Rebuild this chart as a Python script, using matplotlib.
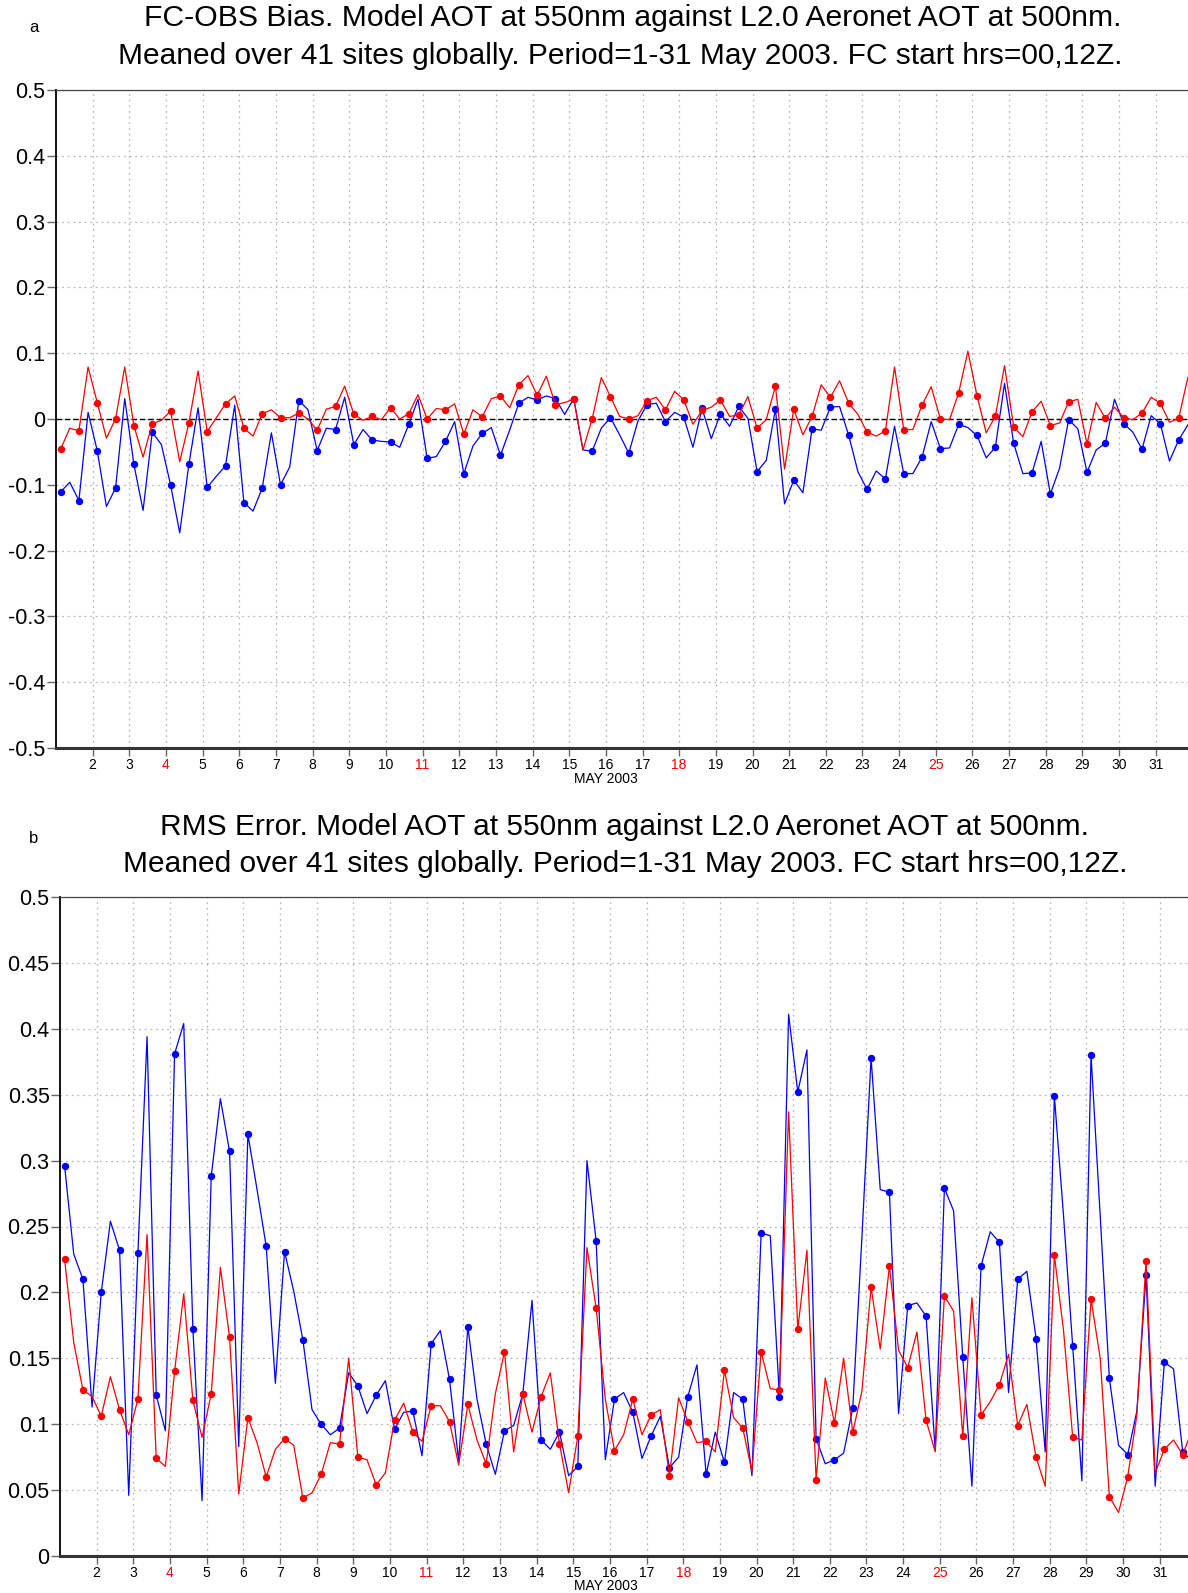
import numpy as np
import matplotlib.pyplot as plt

plt.rcParams['font.family'] = ['Liberation Sans', 'DejaVu Sans']
plt.rcParams['axes.unicode_minus'] = False

# 6-hourly values, May 2003 (valid 03, 09, 15, 21Z)
days = list(range(1, 32))
valid_hours = [3, 9, 15, 21]
time = np.array([d + h / 24 for d in days for h in valid_hours])

bias_blue = [
    -0.111, -0.096, -0.124, 0.010,
    -0.048, -0.133, -0.105, 0.031,
    -0.069, -0.139, -0.020, -0.039,
    -0.100, -0.173, -0.069, 0.017,
    -0.104, -0.087, -0.071, 0.021,
    -0.127, -0.140, -0.105, -0.021,
    -0.100, -0.073, 0.028, 0.014,
    -0.048, -0.014, -0.016, 0.033,
    -0.039, -0.016, -0.032, -0.034,
    -0.035, -0.043, -0.008, 0.030,
    -0.060, -0.057, -0.034, -0.004,
    -0.083, -0.041, -0.022, -0.013,
    -0.055, -0.017, 0.024, 0.033,
    0.029, 0.035, 0.031, 0.007,
    0.031, -0.047, -0.049, -0.014,
    0.002, -0.024, -0.052, -0.003,
    0.022, 0.024, -0.004, 0.010,
    0.003, -0.043, 0.016, -0.030,
    0.008, -0.011, 0.019, 0.001,
    -0.080, -0.063, 0.015, -0.129,
    -0.093, -0.112, -0.015, -0.017,
    0.018, 0.019, -0.025, -0.080,
    -0.107, -0.079, -0.091, -0.011,
    -0.083, -0.083, -0.058, -0.004,
    -0.045, -0.044, -0.008, -0.013,
    -0.025, -0.059, -0.043, 0.054,
    -0.037, -0.083, -0.082, -0.034,
    -0.114, -0.075, -0.001, -0.015,
    -0.081, -0.047, -0.037, 0.030,
    -0.007, -0.020, -0.046, 0.005,
    -0.007, -0.064, -0.032, -0.009,
]

bias_red = [
    -0.046, -0.014, -0.018, 0.079,
    0.025, -0.029, 0.000, 0.079,
    -0.010, -0.058, -0.007, -0.002,
    0.012, -0.065, -0.006, 0.073,
    -0.019, 0.002, 0.023, 0.035,
    -0.014, -0.026, 0.008, 0.014,
    0.002, 0.002, 0.009, 0.000,
    -0.017, 0.015, 0.019, 0.050,
    0.007, -0.002, 0.004, -0.001,
    0.017, 0.000, 0.008, 0.037,
    0.000, 0.016, 0.014, 0.023,
    -0.023, 0.014, 0.003, 0.031,
    0.035, 0.017, 0.052, 0.066,
    0.036, 0.065, 0.022, 0.025,
    0.030, -0.047, 0.000, 0.063,
    0.034, 0.004, 0.000, 0.005,
    0.028, 0.033, 0.014, 0.042,
    0.029, -0.008, 0.013, 0.018,
    0.029, 0.004, 0.006, 0.034,
    -0.014, -0.001, 0.050, -0.076,
    0.015, -0.024, 0.004, 0.052,
    0.033, 0.058, 0.024, 0.007,
    -0.020, -0.026, -0.018, 0.079,
    -0.016, -0.016, 0.021, 0.049,
    0.000, -0.001, 0.040, 0.103,
    0.035, -0.021, 0.004, 0.081,
    -0.012, -0.027, 0.011, 0.027,
    -0.010, -0.006, 0.026, 0.030,
    -0.038, 0.025, 0.001, 0.018,
    0.002, -0.001, 0.009, 0.033,
    0.024, -0.005, 0.001, 0.063,
]

rms_blue = [
    0.296, 0.229, 0.210, 0.113,
    0.200, 0.254, 0.232, 0.046,
    0.230, 0.394, 0.122, 0.095,
    0.381, 0.404, 0.172, 0.042,
    0.288, 0.347, 0.307, 0.083,
    0.320, 0.278, 0.235, 0.131,
    0.231, 0.201, 0.164, 0.111,
    0.100, 0.092, 0.097, 0.139,
    0.129, 0.108, 0.122, 0.133,
    0.096, 0.109, 0.110, 0.076,
    0.161, 0.171, 0.134, 0.072,
    0.174, 0.119, 0.085, 0.062,
    0.095, 0.099, 0.123, 0.194,
    0.088, 0.081, 0.094, 0.061,
    0.068, 0.300, 0.239, 0.073,
    0.119, 0.124, 0.109, 0.074,
    0.091, 0.106, 0.067, 0.075,
    0.121, 0.145, 0.062, 0.094,
    0.071, 0.124, 0.119, 0.061,
    0.245, 0.243, 0.121, 0.411,
    0.352, 0.384, 0.089, 0.070,
    0.073, 0.078, 0.112, 0.242,
    0.378, 0.278, 0.276, 0.108,
    0.190, 0.192, 0.182, 0.080,
    0.279, 0.262, 0.151, 0.053,
    0.220, 0.246, 0.238, 0.124,
    0.210, 0.216, 0.165, 0.079,
    0.349, 0.258, 0.159, 0.057,
    0.380, 0.258, 0.135, 0.084,
    0.077, 0.110, 0.213, 0.053,
    0.147, 0.142, 0.079, 0.072,
]

rms_red = [
    0.225, 0.162, 0.126, 0.121,
    0.106, 0.136, 0.111, 0.092,
    0.119, 0.244, 0.074, 0.068,
    0.140, 0.199, 0.118, 0.090,
    0.123, 0.219, 0.166, 0.047,
    0.105, 0.086, 0.060, 0.081,
    0.089, 0.084, 0.044, 0.048,
    0.062, 0.086, 0.085, 0.150,
    0.075, 0.073, 0.054, 0.063,
    0.103, 0.116, 0.094, 0.087,
    0.114, 0.114, 0.102, 0.069,
    0.115, 0.088, 0.070, 0.123,
    0.155, 0.079, 0.123, 0.094,
    0.121, 0.139, 0.085, 0.048,
    0.091, 0.234, 0.188, 0.119,
    0.080, 0.092, 0.119, 0.092,
    0.107, 0.111, 0.061, 0.120,
    0.102, 0.086, 0.087, 0.079,
    0.141, 0.105, 0.097, 0.064,
    0.155, 0.127, 0.126, 0.337,
    0.172, 0.232, 0.058, 0.135,
    0.101, 0.150, 0.094, 0.125,
    0.204, 0.157, 0.220, 0.156,
    0.143, 0.170, 0.103, 0.079,
    0.197, 0.186, 0.091, 0.196,
    0.107, 0.117, 0.130, 0.153,
    0.099, 0.115, 0.075, 0.053,
    0.228, 0.171, 0.090, 0.088,
    0.195, 0.150, 0.045, 0.033,
    0.060, 0.107, 0.224, 0.063,
    0.081, 0.088, 0.077, 0.095,
]

day_ticks = list(range(2, 32))
sundays = [4, 11, 18, 25]
bias_yticks = [-0.5, -0.4, -0.3, -0.2, -0.1, 0, 0.1, 0.2, 0.3, 0.4, 0.5]
bias_ylabels = ['-0.5', '-0.4', '-0.3', '-0.2', '-0.1', '0', '0.1', '0.2', '0.3', '0.4', '0.5']
rms_yticks = [0, 0.05, 0.1, 0.15, 0.2, 0.25, 0.3, 0.35, 0.4, 0.45, 0.5]
rms_ylabels = ['0', '0.05', '0.1', '0.15', '0.2', '0.25', '0.3', '0.35', '0.4', '0.45', '0.5']

title_a1 = 'FC-OBS Bias. Model AOT at 550nm against L2.0 Aeronet AOT at 500nm.'
title_b1 = 'RMS Error. Model AOT at 550nm against L2.0 Aeronet AOT at 500nm.'
title_2 = 'Meaned over 41 sites globally. Period=1-31 May 2003. FC start hrs=00,12Z.'

W, H = 1188, 1593
fig = plt.figure(figsize=(W / 100, H / 100), dpi=100)


def px_axes(left, top, right, bottom):
    return fig.add_axes([left / W, 1 - bottom / H, (right - left) / W, (bottom - top) / H])


def style(ax, yticks, ylabels, xmax):
    ax.set_xlim(1, xmax)
    ax.set_ylim(yticks[0], yticks[-1])
    ax.set_yticks(yticks)
    ax.set_yticklabels(ylabels, fontsize=15.5)
    ax.set_xticks(day_ticks)
    ax.set_xticklabels([str(d) for d in day_ticks], fontsize=10)
    for lab, d in zip(ax.get_xticklabels(), day_ticks):
        if d in sundays:
            lab.set_color('red')
    ax.grid(True, color='#b8b8b8', linestyle=(0, (1.5, 3)), linewidth=0.9)
    ax.set_axisbelow(True)
    ax.tick_params(axis='y', direction='out', length=6.5, width=1, color='#666666', pad=1)
    ax.tick_params(axis='x', direction='out', length=6, width=1, color='#666666', pad=1)
    ax.spines['right'].set_visible(False)
    ax.spines['top'].set_linewidth(0.9)
    ax.spines['top'].set_color('#444444')
    ax.spines['left'].set_linewidth(1.3)
    ax.spines['bottom'].set_linewidth(2.2)
    ax.spines['bottom'].set_color('#333333')


def draw(ax, blue, red):
    ax.plot(time, blue, color='#0000ff', linewidth=0.9, marker='o', markersize=4.3,
            markevery=(0, 2))
    ax.plot(time, red, color='#ff0000', linewidth=0.9, marker='o', markersize=4.3,
            markevery=(0, 2))


# --- a) bias ---
ax1 = px_axes(56, 90, W, 748)
style(ax1, bias_yticks, bias_ylabels, 31.88)
ax1.axhline(0, color='black', linestyle=(0, (4, 2)), linewidth=1.0, zorder=1.5)
draw(ax1, bias_blue, bias_red)

# --- b) rms ---
ax2 = px_axes(60, 897, W, 1556)
style(ax2, rms_yticks, rms_ylabels, 31.77)
draw(ax2, rms_blue, rms_red)

# titles and labels
fig.text(633 / W, 1 - 18 / H, title_a1, ha='center', va='center', fontsize=21.7)
fig.text(620 / W, 1 - 56 / H, title_2, ha='center', va='center', fontsize=21.5)
fig.text(625 / W, 1 - 827 / H, title_b1, ha='center', va='center', fontsize=21.5)
fig.text(625 / W, 1 - 864 / H, title_2, ha='center', va='center', fontsize=21.5)
fig.text(34 / W, 1 - 28 / H, 'a', ha='center', va='center', fontsize=12)
fig.text(34 / W, 1 - 838 / H, 'b', ha='center', va='center', fontsize=12)
fig.text(606 / W, 1 - 779 / H, 'MAY 2003', ha='center', va='center', fontsize=10)
fig.text(606 / W, 1 - 1586 / H, 'MAY 2003', ha='center', va='center', fontsize=10)

fig.savefig('out.png', dpi=100)
